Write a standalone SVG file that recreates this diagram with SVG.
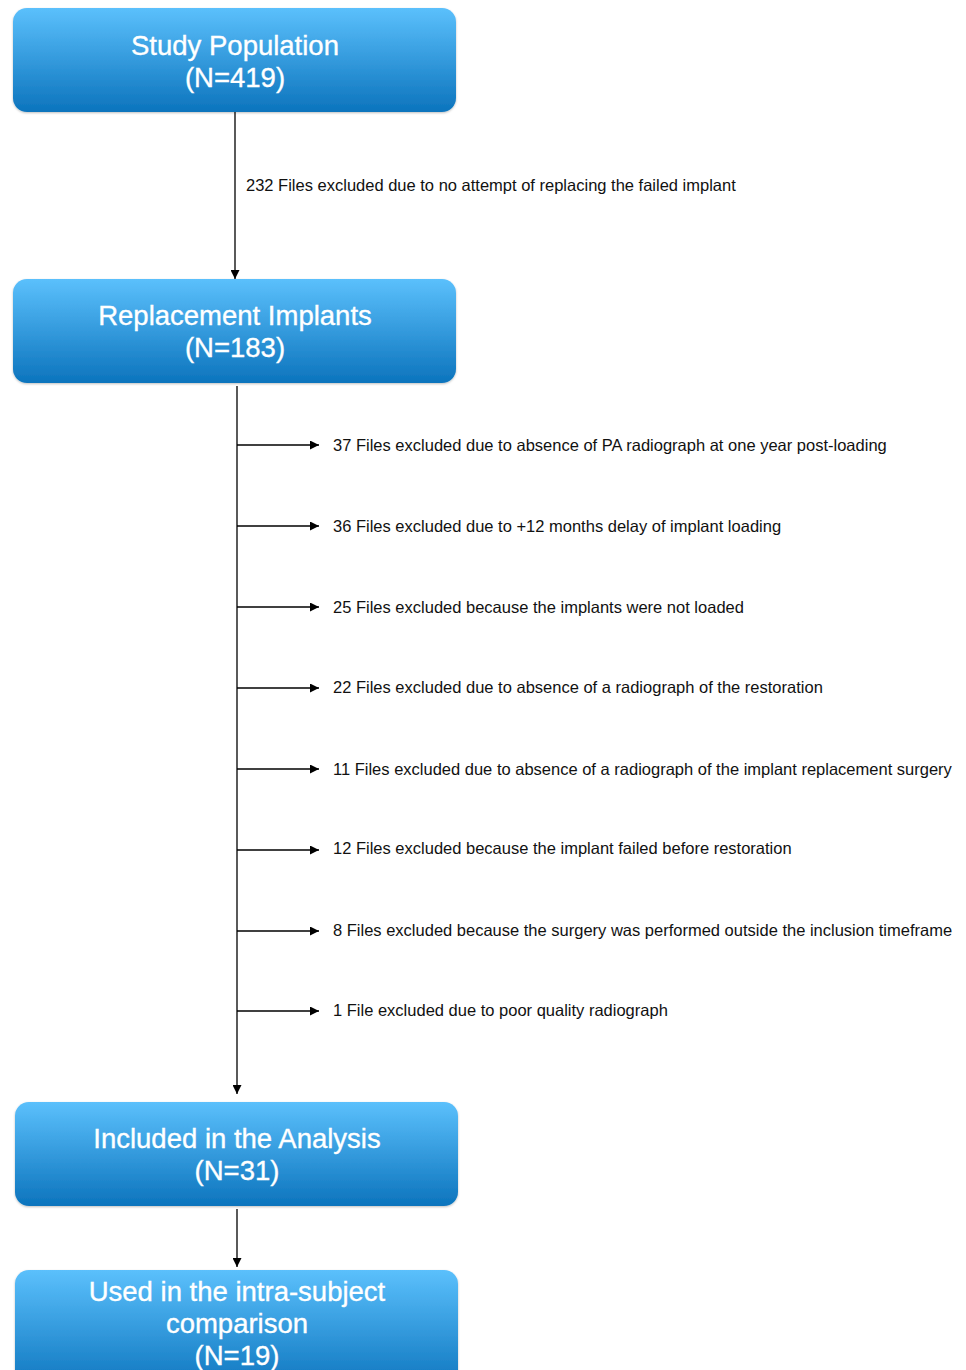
<svg xmlns="http://www.w3.org/2000/svg" width="966" height="1370" viewBox="0 0 966 1370">
<defs>
<linearGradient id="bg" x1="0" y1="0" x2="0" y2="1">
<stop offset="0" stop-color="#5BC0FC"/>
<stop offset="1" stop-color="#0C74BD"/>
</linearGradient>
<filter id="sh" x="-5%" y="-10%" width="110%" height="130%">
<feDropShadow dx="0" dy="1" stdDeviation="1.2" flood-color="#000" flood-opacity="0.25"/>
</filter>
<marker id="ah" viewBox="0 0 10 10" refX="10" refY="5" markerWidth="9" markerHeight="9" markerUnits="userSpaceOnUse" orient="auto">
<path d="M0,0 L10,5 L0,10 z" fill="#000"/>
</marker>
</defs>
<style>
.box{fill:url(#bg);filter:url(#sh);}
.t{font-family:"Liberation Sans",Arial,sans-serif;font-size:27.5px;fill:#fff;stroke:#fff;stroke-width:0.35;text-anchor:middle;}
.l{font-family:"Liberation Sans",Arial,sans-serif;font-size:16.5px;fill:#111;}
.c{stroke:#000;stroke-width:1.3;fill:none;marker-end:url(#ah);}
</style>
<rect width="966" height="1370" fill="#fff"/>
<g id="connectors">
<line class="c" x1="235" y1="112" x2="235" y2="279"/>
<line class="c" x1="237" y1="386" x2="237" y2="1094"/>
<line class="c" x1="237" y1="445" x2="319" y2="445"/>
<line class="c" x1="237" y1="526" x2="319" y2="526"/>
<line class="c" x1="237" y1="607" x2="319" y2="607"/>
<line class="c" x1="237" y1="688" x2="319" y2="688"/>
<line class="c" x1="237" y1="769" x2="319" y2="769"/>
<line class="c" x1="237" y1="850" x2="319" y2="850"/>
<line class="c" x1="237" y1="931" x2="319" y2="931"/>
<line class="c" x1="237" y1="1011" x2="319" y2="1011"/>
<line class="c" x1="237" y1="1209" x2="237" y2="1267"/>
<text class="l" x="246" y="191">232 Files excluded due to no attempt of replacing the failed implant</text>
<text class="l" x="333" y="451">37 Files excluded due to absence of PA radiograph at one year post-loading</text>
<text class="l" x="333" y="532">36 Files excluded due to +12 months delay of implant loading</text>
<text class="l" x="333" y="613">25 Files excluded because the implants were not loaded</text>
<text class="l" x="333" y="693">22 Files excluded due to absence of a radiograph of the restoration</text>
<text class="l" x="333" y="775">11 Files excluded due to absence of a radiograph of the implant replacement surgery</text>
<text class="l" x="333" y="854">12 Files excluded because the implant failed before restoration</text>
<text class="l" x="333" y="936">8 Files excluded because the surgery was performed outside the inclusion timeframe</text>
<text class="l" x="333" y="1016">1 File excluded due to poor quality radiograph</text>
</g>
<g id="n1">
<rect class="box" x="13" y="8" width="443" height="104" rx="14"/>
<text class="t" x="235" y="55">Study Population</text>
<text class="t" x="235" y="87">(N=419)</text>
</g>
<g id="n2">
<rect class="box" x="13" y="279" width="443" height="104" rx="14"/>
<text class="t" x="235" y="325">Replacement Implants</text>
<text class="t" x="235" y="357">(N=183)</text>
</g>
<g id="n3">
<rect class="box" x="15" y="1102" width="443" height="104" rx="14"/>
<text class="t" x="237" y="1148">Included in the Analysis</text>
<text class="t" x="237" y="1180">(N=31)</text>
</g>
<g id="n4">
<rect class="box" x="15" y="1270" width="443" height="120" rx="14"/>
<text class="t" x="237" y="1301">Used in the intra-subject</text>
<text class="t" x="237" y="1333">comparison</text>
<text class="t" x="237" y="1365">(N=19)</text>
</g>
</svg>
